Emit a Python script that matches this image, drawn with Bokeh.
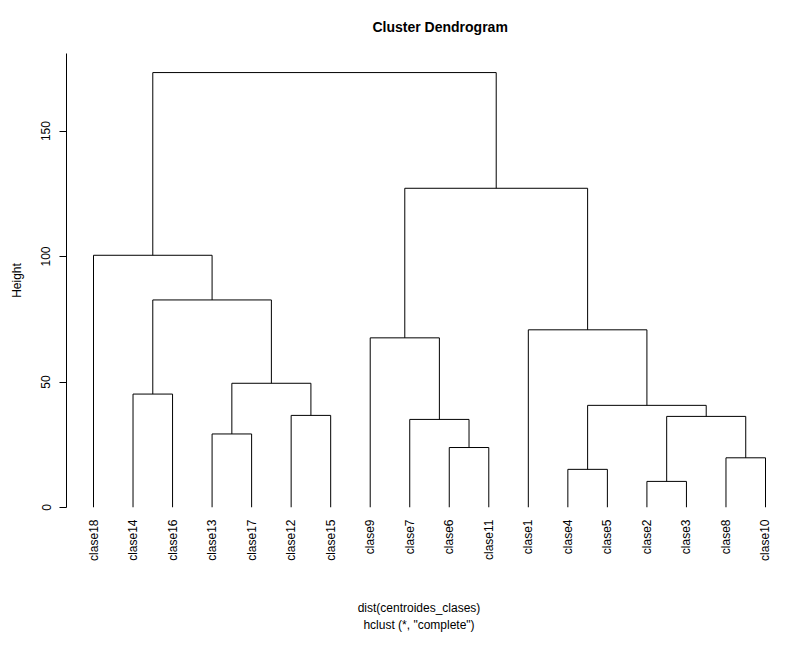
import math
from bokeh.plotting import figure
from bokeh.models import Range1d, FixedTicker, Title, LinearAxis
from bokeh.embed import file_html
from bokeh.resources import INLINE

# ---- data ----
leaf_order = ["clase18", "clase14", "clase16", "clase13", "clase17", "clase12", "clase15",
              "clase9", "clase7", "clase6", "clase11", "clase1", "clase4", "clase5",
              "clase2", "clase3", "clase8", "clase10"]
# merges: (left child, right child); a string = leaf, an int = earlier merge number (1-based)
merge_left = ["clase2", "clase4", "clase8", "clase6", "clase13", "clase7", 1, "clase12", 2,
              "clase14", 5, "clase9", "clase1", 10, "clase18", 12, 15]
merge_right = ["clase3", "clase5", "clase10", "clase11", "clase17", 4, 3, "clase15", 7,
               "clase16", 8, 6, 9, 11, 14, 13, 16]
merge_height = [10.4, 15.2, 19.8, 23.9, 29.3, 35.1, 36.3, 36.7, 40.7,
                45.2, 49.5, 67.6, 70.8, 82.7, 100.5, 127.2, 173.3]
y_ticks = [0, 50, 100, 150]

FONT = "Liberation Sans"

# ---- positions ----
leaf_x = {name: i + 1 for i, name in enumerate(leaf_order)}
node_x, node_h = {}, {}

def pos(c):
    if isinstance(c, str):
        return leaf_x[c], 0.0
    return node_x[c], node_h[c]

xs, ys = [], []
for k, (a, b, h) in enumerate(zip(merge_left, merge_right, merge_height), start=1):
    xa, ha = pos(a)
    xb, hb = pos(b)
    xs.append([xa, xa, xb, xb])
    ys.append([ha, h, h, hb])
    node_x[k] = (xa + xb) / 2
    node_h[k] = h

W, H = 771, 634
n = len(leaf_order)
first_px, last_px, frame_left = 93, 765, 66
px_per = (last_px - first_px) / (n - 1)
x_start = 1 - (first_px - frame_left) / px_per
x_end = n + (W - last_px) / px_per

p = figure(width=W, height=H, output_backend="svg", toolbar_location=None,
           x_range=Range1d(x_start, x_end), y_range=Range1d(0, 180.9),
           min_border_left=frame_left, min_border_right=0, min_border_top=53,
           min_border_bottom=127,
           x_axis_location=None, y_axis_location=None)
p.outline_line_color = None
p.xgrid.visible = False
p.ygrid.visible = False
p.background_fill_color = "white"
p.border_fill_color = "white"

p.multi_line(xs, ys, line_color="black", line_width=1)

# y axis
yax = LinearAxis(ticker=FixedTicker(ticks=y_ticks), axis_label="Height")
yax.major_tick_out = 7
yax.major_tick_in = 0
yax.minor_tick_line_color = None
yax.major_label_orientation = "vertical"
yax.major_label_standoff = 9
yax.major_label_text_font = FONT
yax.major_label_text_font_size = "12px"
yax.major_label_text_color = "black"
yax.axis_label_text_font = FONT
yax.axis_label_text_font_size = "12px"
yax.axis_label_text_font_style = "normal"
yax.axis_label_text_color = "black"
yax.axis_label_standoff = 15
yax.axis_line_color = "black"
yax.major_tick_line_color = "black"
p.add_layout(yax, "left")

# x axis with leaf labels
xax = LinearAxis(ticker=FixedTicker(ticks=list(range(1, n + 1))),
                 major_label_overrides={i + 1: name for i, name in enumerate(leaf_order)})
xax.axis_line_color = None
xax.major_tick_line_color = None
xax.minor_tick_line_color = None
xax.major_label_orientation = math.pi / 2
xax.major_label_standoff = 6
xax.major_label_text_font = FONT
xax.major_label_text_font_size = "12px"
xax.major_label_text_color = "black"
p.add_layout(xax, "below")

def text_axis(label, standoff):
    ax = LinearAxis(ticker=FixedTicker(ticks=[]), axis_label=label)
    ax.axis_line_color = None
    ax.major_tick_line_color = None
    ax.minor_tick_line_color = None
    ax.major_tick_out = 0
    ax.major_tick_in = 0
    ax.minor_tick_out = 0
    ax.minor_tick_in = 0
    ax.major_label_standoff = 0
    ax.axis_label_standoff = standoff
    ax.axis_label_text_font = FONT
    ax.axis_label_text_font_size = "12px"
    ax.axis_label_text_font_style = "normal"
    ax.axis_label_text_color = "black"
    return ax

p.add_layout(text_axis("dist(centroides_clases)", 37), "below")
p.add_layout(text_axis('hclust (*, "complete")', 0), "below")

# title
t = Title(text="Cluster Dendrogram", align="left", offset=306, vertical_align="top",
          text_font=FONT, text_font_size="14px", text_font_style="bold",
          text_color="black", standoff=34)
p.add_layout(t, "above")

open("out.html", "w").write(file_html(p, INLINE))
